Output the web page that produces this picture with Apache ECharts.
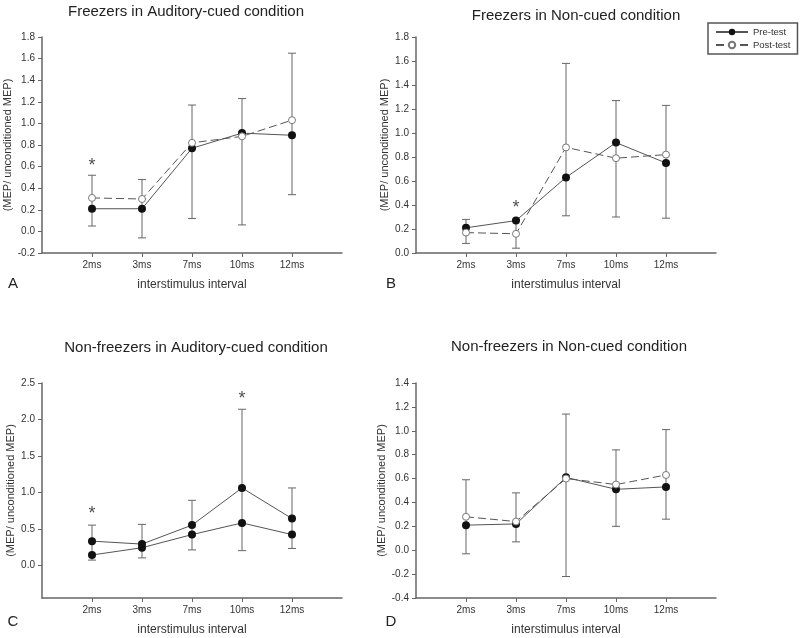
<!DOCTYPE html>
<html>
<head>
<meta charset="utf-8">
<script src="https://cdn.jsdelivr.net/npm/echarts@6/dist/echarts.min.js"></script>
<style>
html,body{margin:0;padding:0;background:#fff;}
#chart{width:800px;height:638px;}
</style>
</head>
<body>
<div id="chart"></div>
<script>
// ---------- data ----------
const categories = ['2ms', '3ms', '7ms', '10ms', '12ms'];
const seriesNames = ['Pre-test', 'Post-test'];
const titles = [
  'Freezers in Auditory-cued condition',
  'Freezers in Non-cued condition',
  'Non-freezers in Auditory-cued condition',
  'Non-freezers in Non-cued condition'
];
const panelLetters = ['A', 'B', 'C', 'D'];
const xAxisName = 'interstimulus interval';
const yAxisName = '(MEP/ unconditioned MEP)';

// Panel A
const aPre = [0.21, 0.21, 0.77, 0.91, 0.89];
const aPost = [0.31, 0.30, 0.82, 0.88, 1.03];
const aErrHigh = [0.52, 0.48, 1.17, 1.23, 1.65];
const aErrLow = [0.05, -0.06, 0.12, 0.06, 0.34];
const aStars = [['2ms', 0.64]];
// Panel B
const bPre = [0.21, 0.27, 0.63, 0.92, 0.75];
const bPost = [0.17, 0.16, 0.88, 0.79, 0.82];
const bErrHigh = [0.28, 0.28, 1.58, 1.27, 1.23];
const bErrLow = [0.08, 0.04, 0.31, 0.30, 0.29];
const bStars = [['3ms', 0.41]];
// Panel C
const cPre = [0.14, 0.24, 0.42, 0.58, 0.42];
const cPost = [0.33, 0.29, 0.55, 1.06, 0.64];
const cErrHigh = [0.55, 0.56, 0.89, 2.14, 1.06];
const cErrLow = [0.07, 0.10, 0.21, 0.20, 0.23];
const cStars = [['2ms', 0.76], ['10ms', 2.34]];
// Panel D
const dPre = [0.21, 0.22, 0.61, 0.51, 0.53];
const dPost = [0.28, 0.24, 0.60, 0.55, 0.63];
const dErrHigh = [0.59, 0.48, 1.14, 0.84, 1.01];
const dErrLow = [-0.03, 0.07, -0.22, 0.20, 0.26];
const dStars = [];

// y-axis tick values
const aTicks = [-0.2, 0, 0.2, 0.4, 0.6, 0.8, 1.0, 1.2, 1.4, 1.6, 1.8];
const bTicks = [0, 0.2, 0.4, 0.6, 0.8, 1.0, 1.2, 1.4, 1.6, 1.8];
const cTicks = [0, 0.5, 1.0, 1.5, 2.0, 2.5];
const dTicks = [-0.4, -0.2, 0, 0.2, 0.4, 0.6, 0.8, 1.0, 1.2, 1.4];

// ---------- layout / style ----------
const FONT = 'Arial, "Liberation Sans", sans-serif';
const AXIS = '#666';
const LINE = '#555';
const TXT = '#333';

const panels = [
  {pre: aPre, post: aPost, hi: aErrHigh, lo: aErrLow, stars: aStars, ticks: aTicks, min: -0.2, max: 1.8,
   grid: {left: 42, top: 37, width: 300, height: 216}, title: [181, -1], letter: [13, 284], postOpen: true},
  {pre: bPre, post: bPost, hi: bErrHigh, lo: bErrLow, stars: bStars, ticks: bTicks, min: 0, max: 1.8,
   grid: {left: 416, top: 37, width: 300, height: 216}, title: [571, 3], letter: [391, 284], postOpen: true},
  {pre: cPre, post: cPost, hi: cErrHigh, lo: cErrLow, stars: cStars, ticks: cTicks, min: -0.45, max: 2.5,
   grid: {left: 42, top: 383, width: 300, height: 215}, title: [191, 335], letter: [13, 622], postOpen: false},
  {pre: dPre, post: dPost, hi: dErrHigh, lo: dErrLow, stars: dStars, ticks: dTicks, min: -0.4, max: 1.4,
   grid: {left: 416, top: 383, width: 300, height: 215}, title: [564, 334], letter: [391, 622], postOpen: true}
];

const axisCats = [''].concat(categories, ['']);
const fmt = v => (Math.abs(v) < 1e-9 ? '0.0' : v.toFixed(1));

const grids = [], xAxes = [], yAxes = [], series = [], titleArr = [], graphics = [];

panels.forEach((p, i) => {
  grids.push(Object.assign({containLabel: false}, p.grid));
  titleArr.push({
    text: titles[i], left: p.title[0], top: p.title[1], textAlign: 'center',
    textStyle: {fontFamily: FONT, fontSize: 15, fontWeight: 'normal', color: '#222'}
  });
  graphics.push({
    type: 'text', x: p.letter[0], y: p.letter[1],
    style: {text: panelLetters[i], font: '15px ' + FONT, fill: '#222', textAlign: 'center', textVerticalAlign: 'middle'}
  });
  xAxes.push({
    type: 'category', gridIndex: i, data: axisCats, boundaryGap: false,
    name: xAxisName, nameLocation: 'middle', nameGap: 26,
    nameTextStyle: {fontFamily: FONT, fontSize: 12, color: TXT},
    axisLine: {onZero: false, lineStyle: {color: AXIS, width: 1.5}},
    axisTick: {show: true, length: 4, interval: (idx, v) => v !== '', lineStyle: {color: AXIS, width: 1}},
    axisLabel: {interval: 0, margin: 7, fontFamily: FONT, fontSize: 10, color: TXT},
    splitLine: {show: false}
  });
  yAxes.push({
    type: 'value', gridIndex: i, min: p.min, max: p.max,
    name: yAxisName, nameLocation: 'middle', nameRotate: 90, nameGap: 26,
    nameTextStyle: {fontFamily: FONT, fontSize: 11, color: TXT},
    axisLine: {show: true, onZero: false, lineStyle: {color: AXIS, width: 1.5}},
    axisTick: {show: true, length: 4, customValues: p.ticks, lineStyle: {color: AXIS, width: 1}},
    axisLabel: {customValues: p.ticks, formatter: fmt, margin: 7, fontFamily: FONT, fontSize: 10, color: TXT,
                showMinLabel: true, showMaxLabel: true},
    splitLine: {show: false}
  });

  // error bars
  series.push({
    type: 'custom', xAxisIndex: i, yAxisIndex: i, silent: true, z: 1,
    data: categories.map((c, k) => [k + 1, p.lo[k], p.hi[k]]),
    encode: {x: 0, y: [1, 2]},
    renderItem: function (params, api) {
      const lo = api.coord([api.value(0), api.value(1)]);
      const hi = api.coord([api.value(0), api.value(2)]);
      const hw = 4;
      const st = {stroke: '#666', lineWidth: 1};
      return {
        type: 'group', children: [
          {type: 'line', shape: {x1: lo[0], y1: lo[1], x2: hi[0], y2: hi[1]}, style: st},
          {type: 'line', shape: {x1: hi[0] - hw, y1: hi[1], x2: hi[0] + hw, y2: hi[1]}, style: st},
          {type: 'line', shape: {x1: lo[0] - hw, y1: lo[1], x2: lo[0] + hw, y2: lo[1]}, style: st}
        ]
      };
    }
  });
  // pre-test
  series.push({
    name: seriesNames[0], type: 'line', xAxisIndex: i, yAxisIndex: i, z: 3,
    data: categories.map((c, k) => [c, p.pre[k]]),
    symbol: 'circle', symbolSize: 8,
    itemStyle: {color: '#111'},
    lineStyle: {color: LINE, width: 1},
    animation: false
  });
  // post-test
  series.push({
    name: seriesNames[1], type: 'line', xAxisIndex: i, yAxisIndex: i, z: 4,
    data: categories.map((c, k) => [c, p.post[k]]),
    symbol: 'circle', symbolSize: p.postOpen ? 7 : 8,
    itemStyle: p.postOpen ? {color: '#fff', borderColor: '#777', borderWidth: 1} : {color: '#111'},
    lineStyle: p.postOpen ? {color: LINE, width: 1, type: [8, 4]} : {color: LINE, width: 1},
    animation: false
  });
  // significance stars
  if (p.stars.length) {
    series.push({
      type: 'scatter', xAxisIndex: i, yAxisIndex: i, silent: true, z: 5,
      data: p.stars, symbolSize: 1, itemStyle: {color: 'rgba(0,0,0,0)'},
      label: {show: true, position: 'inside', formatter: '*', offset: [0, 4],
              fontFamily: FONT, fontSize: 18, color: '#222'}
    });
  }
});

const chart = echarts.init(document.getElementById('chart'), null, {renderer: 'canvas'});
chart.setOption({
  backgroundColor: '#fff',
  animation: false,
  title: titleArr,
  grid: grids,
  xAxis: xAxes,
  yAxis: yAxes,
  legend: {
    data: seriesNames, orient: 'vertical', left: 708, top: 23,
    itemWidth: 32, itemHeight: 8, itemGap: 3, padding: [4, 7, 4, 7],
    borderColor: '#555', borderWidth: 1.5, backgroundColor: '#fff',
    textStyle: {fontFamily: FONT, fontSize: 9.5, color: TXT},
    selectedMode: false
  },
  graphic: graphics,
  series: series
});
</script>
</body>
</html>
